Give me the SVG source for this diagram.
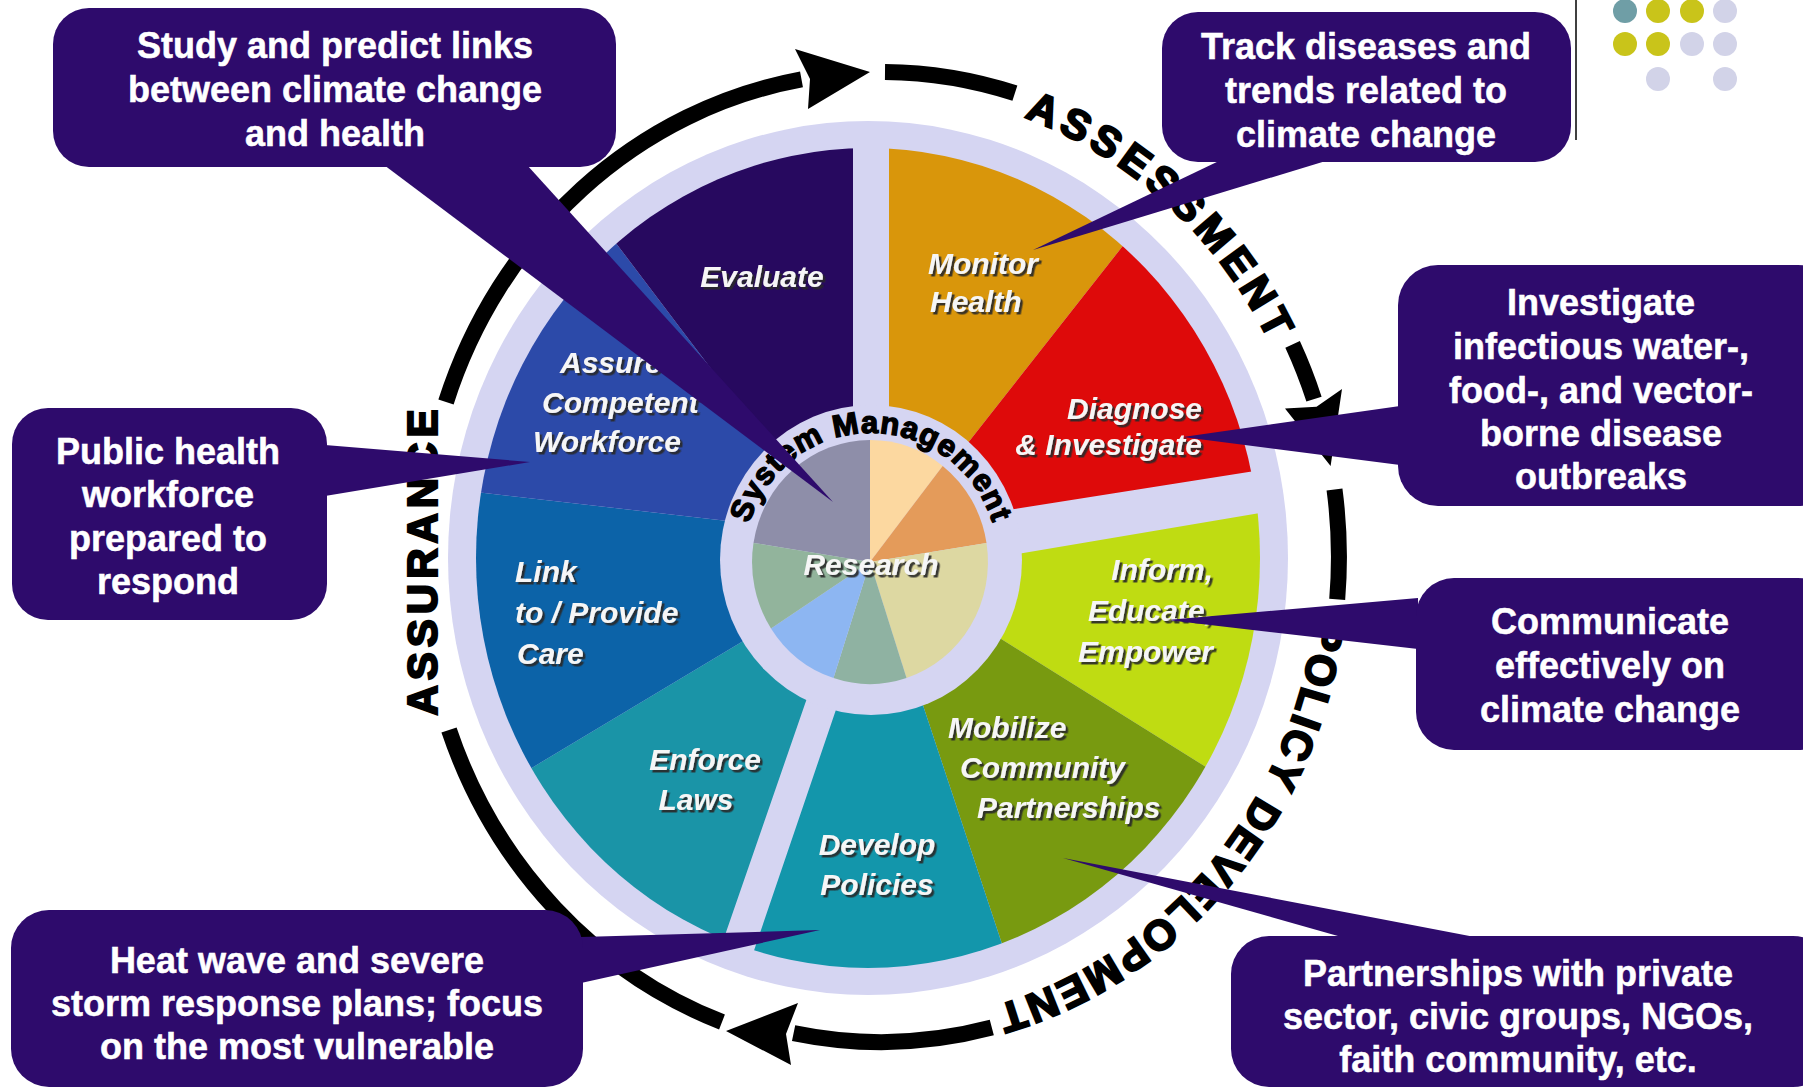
<svg xmlns="http://www.w3.org/2000/svg" width="1803" height="1090" viewBox="0 0 1803 1090">
<defs>
<style>
.box{fill:#2e0b6c}
.bt{font-family:"Liberation Sans",Arial,sans-serif;font-weight:bold;font-size:36px;fill:#ffffff;stroke:#ffffff;stroke-width:0.5;text-anchor:middle}
.wl{font-family:"Liberation Sans",Arial,sans-serif;font-weight:bold;font-style:italic;font-size:30px;fill:#f6f6f6;filter:url(#sh)}
.ring{fill:none;stroke:#000;stroke-width:16}
.rt{font-family:"Liberation Sans",Arial,sans-serif;font-weight:bold;font-size:42px;fill:#000;stroke:#000;stroke-width:2.2}
.sm{font-family:"Liberation Sans",Arial,sans-serif;font-weight:bold;font-size:31px;fill:#000;stroke:#000;stroke-width:1.4}
</style>
<filter id="sh" x="-10%" y="-20%" width="130%" height="150%">
<feDropShadow dx="2.5" dy="2.5" stdDeviation="0.6" flood-color="#2a2a2a" flood-opacity="0.9"/>
</filter>
<clipPath id="wc"><ellipse cx="868" cy="558" rx="392" ry="410"/></clipPath>
<path id="pAss" d="M1023.6 117.3 A438 465 0 0 1 1271.3 345.9"/>
<path id="pPol" d="M1315.7 613.7 A438 465 0 0 1 987 1008.2"/>
<path id="pSys" d="M744 560 A127 127 0 0 1 998 560"/>
</defs>
<rect width="1803" height="1090" fill="#ffffff"/>

<!-- decorative dots -->
<g id="dots">
<circle cx="1625" cy="11" r="12" fill="#6f9ea6"/>
<circle cx="1658" cy="11" r="12" fill="#c9c41a"/>
<circle cx="1692" cy="11" r="12" fill="#c9c41a"/>
<circle cx="1725" cy="11" r="12" fill="#d2d3e8"/>
<circle cx="1625" cy="44" r="12" fill="#c9c41a"/>
<circle cx="1658" cy="44" r="12" fill="#c9c41a"/>
<circle cx="1692" cy="44" r="12" fill="#d2d3e8"/>
<circle cx="1725" cy="44" r="12" fill="#d2d3e8"/>
<circle cx="1658" cy="79" r="12" fill="#d2d3e8"/>
<circle cx="1725" cy="79" r="12" fill="#d2d3e8"/>
</g>
<line x1="1576" y1="0" x2="1576" y2="140" stroke="#000" stroke-width="1.5"/>

<!-- outer cycle ring -->
<g id="cycle">
<path class="ring" d="M446 402 A458 485 0 0 1 801.5 79.4"/>
<polygon points="795,49 870,72 808,109 810,79" fill="#000"/>
<path class="ring" d="M885 72 A458 485 0 0 1 1014.9 93.2"/>
<path class="ring" d="M1292.6 344.4 A458 485 0 0 1 1314 399.1"/>
<polygon points="1342,389 1330.6,466 1285,408.5 1316.5,406.7" fill="#000"/>
<path class="ring" d="M1334.5 489.5 A458 485 0 0 1 1337.2 599.3"/>
<path class="ring" d="M991.8 1027.6 A458 485 0 0 1 793.6 1033.1"/>
<polygon points="798,1003 726,1031 791,1065 786,1034" fill="#000"/>
<path class="ring" d="M722 1022 A458 485 0 0 1 449 730"/>
<text class="rt" letter-spacing="5.5" text-anchor="middle"><textPath href="#pAss" startOffset="50%">ASSESSMENT</textPath></text>
<text class="rt" letter-spacing="2.4" text-anchor="middle"><textPath href="#pPol" startOffset="50%">POLICY DEVELOPMENT</textPath></text>
<text class="rt" letter-spacing="5" text-anchor="middle" transform="translate(437,560) rotate(-90)">ASSURANCE</text>
</g>

<!-- wheel -->
<g id="wheel">
<ellipse cx="868" cy="558" rx="420" ry="437" fill="#d5d5f2"/>
<g clip-path="url(#wc)">
<polygon id="w-monitor" points="889,450 889,-400 1516,-254 960,453 871,560" fill="#d9960b"/>
<polygon id="w-diagnose" points="960,453 1516,-254 1884,372 995,512 871,560" fill="#de0a0a"/>
<polygon id="w-inform" points="1000,557 1887,407 1753,1109 990,632 871,560" fill="#bfdc12"/>
<polygon id="w-mobilize" points="990,632 1753,1109 1193,1521 910,666 871,560" fill="#789a10"/>
<polygon id="w-develop" points="910,666 1193,1521 552,1544 842,692 871,560" fill="#1396ab"/>
<polygon id="w-enforce" points="815,675 521,1525 -22,1100 750,637 871,560" fill="#1a94a7"/>
<polygon id="w-link" points="750,637 -22,1100 -149,420 745,523 871,560" fill="#0c63a8"/>
<polygon id="w-assure" points="745,523 -149,420 237,-258 780,460 871,560" fill="#2c4aa9"/>
<polygon id="w-evaluate" points="780,460 237,-258 853,-400 853,450 871,560" fill="#27095f"/>
</g>
<ellipse cx="871" cy="560" rx="151" ry="155" fill="#d5d5f2"/>
<g id="research-pie">
<path d="M870 562 L753.5 542.9 A118 122 0 0 1 870 440 Z" fill="#8e8ea9"/>
<path d="M870 562 L870 440 A118 122 0 0 1 942.7 465.9 Z" fill="#fcd8a0"/>
<path d="M870 562 L942.7 465.9 A118 122 0 0 1 986.5 542.9 Z" fill="#e49b5a"/>
<path d="M870 562 L986.5 542.9 A118 122 0 0 1 906.5 678 Z" fill="#ddd8a2"/>
<path d="M870 562 L906.5 678 A118 122 0 0 1 833.5 678 Z" fill="#8fb2a2"/>
<path d="M870 562 L833.5 678 A118 122 0 0 1 771 628.4 Z" fill="#8db6f2"/>
<path d="M870 562 L771 628.4 A118 122 0 0 1 753.5 542.9 Z" fill="#92b49c"/>
</g>
<text class="sm" letter-spacing="1" text-anchor="middle"><textPath href="#pSys" startOffset="50%">System Management</textPath></text>
<text class="wl" x="871" y="575" font-size="32" text-anchor="middle">Research</text>
</g>

<!-- wedge labels -->
<g id="n-evaluate"><text class="wl" x="762" y="287" text-anchor="middle">Evaluate</text></g>
<g id="n-monitor"><text class="wl" x="928" y="274">Monitor</text><text class="wl" x="930" y="312">Health</text></g>
<g id="n-diagnose"><text class="wl" x="1202" y="419" text-anchor="end">Diagnose</text><text class="wl" x="1202" y="455" text-anchor="end">&amp; Investigate</text></g>
<g id="n-assure"><text class="wl" x="560" y="373">Assure</text><text class="wl" x="542" y="413">Competent</text><text class="wl" x="533" y="452">Workforce</text></g>
<g id="n-link"><text class="wl" x="515" y="582">Link</text><text class="wl" x="515" y="623">to / Provide</text><text class="wl" x="517" y="664">Care</text></g>
<g id="n-enforce"><text class="wl" x="705" y="770" text-anchor="middle">Enforce</text><text class="wl" x="696" y="810" text-anchor="middle">Laws</text></g>
<g id="n-develop"><text class="wl" x="877" y="855" text-anchor="middle">Develop</text><text class="wl" x="877" y="895" text-anchor="middle">Policies</text></g>
<g id="n-mobilize"><text class="wl" x="948" y="738">Mobilize</text><text class="wl" x="960" y="778">Community</text><text class="wl" x="977" y="818">Partnerships</text></g>
<g id="n-inform"><text class="wl" x="1213" y="580" text-anchor="end">Inform,</text><text class="wl" x="1213" y="621" text-anchor="end">Educate,</text><text class="wl" x="1213" y="662" text-anchor="end">Empower</text></g>

<!-- callout pointers -->
<g id="connectors" class="box">
<polygon points="384,165 527,165 833,502"/>
<polygon points="1221,160 1329,160 1033,250"/>
<polygon points="1400,406 1400,465 1183,437"/>
<polygon points="325,445 325,496 530,462"/>
<polygon points="1418,598 1418,649 1167,620"/>
<polygon points="581,937 581,983 820,930"/>
<polygon points="1345,938 1480,938 1063,858"/>
</g>

<!-- callout boxes -->
<g id="c-research"><rect class="box" x="53" y="8" width="563" height="159" rx="36"/>
<text class="bt" x="335" y="58">Study and predict links</text><text class="bt" x="335" y="102">between climate change</text><text class="bt" x="335" y="146">and health</text></g>
<g id="c-monitor"><rect class="box" x="1162" y="12" width="409" height="150" rx="36"/>
<text class="bt" x="1366" y="59">Track diseases and</text><text class="bt" x="1366" y="103">trends related to</text><text class="bt" x="1366" y="147">climate change</text></g>
<g id="c-diagnose"><rect class="box" x="1398" y="265" width="440" height="241" rx="40"/>
<text class="bt" x="1601" y="315">Investigate</text><text class="bt" x="1601" y="359">infectious water-,</text><text class="bt" x="1601" y="403">food-, and vector-</text><text class="bt" x="1601" y="446">borne disease</text><text class="bt" x="1601" y="489">outbreaks</text></g>
<g id="c-workforce"><rect class="box" x="12" y="408" width="315" height="212" rx="36"/>
<text class="bt" x="168" y="464">Public health</text><text class="bt" x="168" y="507">workforce</text><text class="bt" x="168" y="551">prepared to</text><text class="bt" x="168" y="594">respond</text></g>
<g id="c-inform"><rect class="box" x="1416" y="578" width="420" height="172" rx="38"/>
<text class="bt" x="1610" y="634">Communicate</text><text class="bt" x="1610" y="678">effectively on</text><text class="bt" x="1610" y="722">climate change</text></g>
<g id="c-policies"><rect class="box" x="11" y="910" width="572" height="177" rx="38"/>
<text class="bt" x="297" y="973">Heat wave and severe</text><text class="bt" x="297" y="1016">storm response plans; focus</text><text class="bt" x="297" y="1059">on the most vulnerable</text></g>
<g id="c-mobilize"><rect class="box" x="1231" y="936" width="600" height="151" rx="38"/>
<text class="bt" x="1518" y="986">Partnerships with private</text><text class="bt" x="1518" y="1029">sector, civic groups, NGOs,</text><text class="bt" x="1518" y="1072">faith community, etc.</text></g>
</svg>
